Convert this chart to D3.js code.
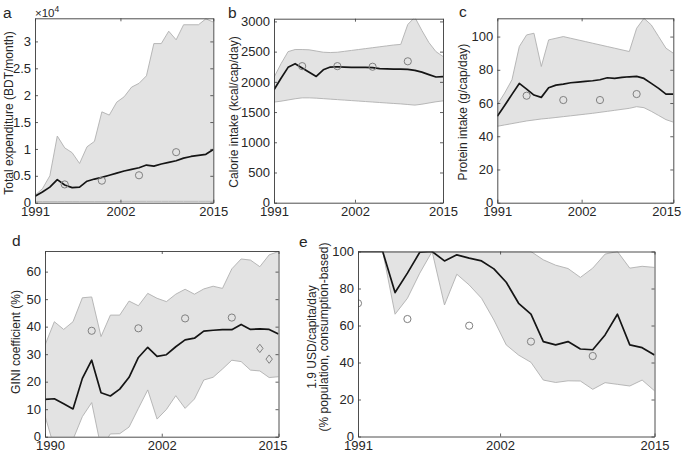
<!DOCTYPE html>
<html><head><meta charset="utf-8">
<script src="https://cdn.jsdelivr.net/npm/d3@7"></script>
<style>
body{margin:0;background:#fff}
svg text{font-family:"Liberation Sans",Arial,Helvetica,sans-serif;fill:#262626}
</style>
</head><body>
<svg id="chart" width="685" height="455"></svg>
<script>
// ---------------- DATA ----------------
const years91 = [1991,1992,1993,1994,1995,1996,1997,1998,1999,2000,2001,2002,2003,2004,2005,2006,2007,2008,2009,2010,2011,2012,2013,2014,2015];
const years90 = [1990,1991,1992,1993,1994,1995,1996,1997,1998,1999,2000,2001,2002,2003,2004,2005,2006,2007,2008,2009,2010,2011,2012,2013,2014,2015];
const surveyYears = [1995,2000,2005,2010];
const xTickLabels91 = ["1991","2002","2015"];
const xTickLabels90 = ["1990","2002","2015"];
const xTickPos91 = [1991,2002.5,2015];
const xTickPos90 = [1990,2002.5,2015];

// a: total expenditure (BDT/month)
const expMean  = [1200,2000,2900,4300,3300,2800,2900,4000,4400,4700,5100,5500,5900,6200,6500,7000,6800,7200,7500,7800,8300,8600,8800,9000,9900];
const expUpper = [1400,2600,5000,12400,10200,9300,7300,10400,11400,16900,16300,18700,19700,21500,22200,23600,29600,29600,31900,30300,33100,33100,33100,34200,33600];
const expLower = [200,200,200,200,200,200,200,200,200,200,200,200,250,250,250,250,250,250,250,250,250,250,250,250,250];
const expSurvey = [3400,4100,5100,9400];
const expTicks = [0,5000,10000,15000,20000,25000,30000];
const expTickLabels = ["0","0.5","1","1.5","2","2.5","3"];

// b: calorie intake (kcal/cap/day)
const calMean  = [1870,2060,2240,2300,2230,2160,2090,2200,2245,2250,2245,2240,2240,2240,2235,2220,2215,2212,2210,2205,2190,2160,2120,2080,2085];
const calUpper = [2075,2300,2500,2535,2535,2530,2510,2490,2485,2490,2505,2520,2535,2550,2565,2580,2595,2610,2620,2950,3070,2850,2650,2500,2420];
const calLower = [1665,1680,1700,1720,1735,1735,1730,1722,1714,1706,1698,1690,1682,1674,1666,1658,1650,1642,1635,1625,1615,1630,1650,1670,1685];
const calSurvey = [2260,2260,2250,2340];
const calTicks = [0,500,1000,1500,2000,2500,3000];

// c: protein intake (g/cap/day)
const proMean  = [52,58.5,65.2,71.8,68.4,64.8,63.4,69.2,70.8,71.4,72.2,72.6,73,73.4,74,75.2,74.8,75.4,75.8,76,74.8,71.8,68.8,65.4,65.4];
const proUpper = [59,66,74,94,101,102,82,98,99,100,99,98,97,96,95,94,93,92,91,105,111,107,100,93,90];
const proLower = [46,46.8,47.6,48.4,49.2,49.8,50.4,50.8,51.3,51.8,52.3,52.8,53.3,53.8,54.4,55,55.6,56.2,56.8,57.8,57.2,55,52.5,50,48.5];
const proSurvey = [64.4,61.8,61.8,65.4];
const proTicks = [0,20,40,60,80,100];

// d: GINI coefficient (%)
const giniMean  = [13.6,13.8,12.0,10.1,21.2,27.8,16.0,14.8,17.3,21.6,28.8,32.5,29.2,29.8,32.7,35.2,35.8,38.4,38.7,38.9,38.9,40.8,39.0,39.2,39.0,37.3];
const giniUpper = [33.3,41.8,39.0,41.8,50.5,50.8,36.4,44.2,44.2,49.3,47.6,52.1,50.3,49.1,51.8,53.6,51.8,53.7,54.7,53.9,61.0,64.6,64.2,61.8,66.1,67.3];
const giniLower = [7.5,-4,-6,-1,7.3,12.4,-4,1.0,1.1,3.5,10.3,17.0,6.4,9.9,14.9,10.3,13.7,20.6,21.6,24.6,27.8,27.3,24.2,23.9,21.5,21.8];
const giniSurvey = [38.5,39.4,43.0,43.3];
const giniAltYears = [2013,2014];
const giniAlt = [32.1,28.2];
const giniTicks = [0,10,20,30,40,50,60];

// e: poverty headcount at 1.9 USD/capita/day (%)
const povMean  = [100,100,100,77.8,88.3,99.6,100,94.9,98.2,96.4,94.9,90.6,83.4,72.0,66.2,51.3,49.5,51.3,47.3,46.9,54.9,66.1,49.5,48.0,44.0];
const povUpper = [100,100,100,100,100,100,100,100,100,100,100,100,100,100,100,95.5,92.6,90.8,86.0,91.0,98.6,100,91.0,92.0,91.4];
const povLower = [100,100,100,66.1,74.7,88.3,100,71.1,87.7,81.9,74.7,63.0,49.5,44.0,40.1,30.5,29.2,30.1,30.0,25.5,29.1,28.2,27.3,30.5,24.7];
const povSurveyYears = [1991,1995,2000,2005,2010];
const povSurvey = [72.0,63.5,59.9,51.3,43.5];
const povTicks = [0,20,40,60,80,100];

// ---------------- DRAW ----------------
const svg = d3.select("#chart");
const FONT = 13;

function panel(cfg){
  const g = svg.append("g");
  const x = d3.scaleLinear().domain(cfg.xDomain).range([cfg.box.l, cfg.box.r]);
  const y = d3.scaleLinear().domain(cfg.yDomain).range([cfg.box.b, cfg.box.t]);
  const id = "clip-" + cfg.letter;
  svg.append("defs").append("clipPath").attr("id", id)
    .append("rect").attr("x", cfg.box.l).attr("y", cfg.box.t)
    .attr("width", cfg.box.r - cfg.box.l).attr("height", cfg.box.b - cfg.box.t);
  const pg = g.append("g").attr("clip-path", `url(#${id})`);
  const pts = cfg.years.map((yr,i)=>({yr, lo:cfg.lower[i], hi:cfg.upper[i], m:cfg.mean[i]}));
  pg.append("path").datum(pts)
    .attr("d", d3.area().x(d=>x(d.yr)).y0(d=>y(d.lo)).y1(d=>y(d.hi)))
    .attr("fill", "#e3e3e3").attr("stroke", "none");
  ["lo","hi"].forEach(k=>{
    pg.append("path").datum(pts)
      .attr("d", d3.line().x(d=>x(d.yr)).y(d=>y(d[k])))
      .attr("fill","none").attr("stroke","#b0b0b0").attr("stroke-width",0.9);
  });
  pg.append("path").datum(pts)
    .attr("d", d3.line().x(d=>x(d.yr)).y(d=>y(d.m)))
    .attr("fill","none").attr("stroke","#151515").attr("stroke-width",1.7)
    .attr("stroke-linejoin","round");
  pg.selectAll("circle.sv").data(cfg.survey).join("circle")
    .attr("cx", d=>x(d[0])).attr("cy", d=>y(d[1])).attr("r", 3.6)
    .attr("fill","none").attr("stroke","#808080").attr("stroke-width",1);
  if (cfg.diamonds){
    pg.selectAll("path.dm").data(cfg.diamonds).join("path")
      .attr("d", d=>{const cx=x(d[0]), cy=y(d[1]); return `M${cx},${cy-4.2}L${cx+3.2},${cy}L${cx},${cy+4.2}L${cx-3.2},${cy}Z`;})
      .attr("fill","none").attr("stroke","#808080").attr("stroke-width",1);
  }
  // axes
  const tl = 3;
  const ax = g.append("g").attr("transform",`translate(0,${cfg.box.b})`)
    .call(d3.axisBottom(x).tickValues(cfg.xTicks).tickFormat((d,i)=>cfg.xLabels[i]).tickSizeInner(-tl).tickSizeOuter(0).tickPadding(4));
  if (cfg.xLabelDx) ax.selectAll(".tick text").attr("dx",(d,i)=>cfg.xLabelDx[i]);
  g.append("g").attr("transform",`translate(0,${cfg.box.t})`)
    .call(d3.axisTop(x).tickValues(cfg.xTicks).tickFormat("").tickSizeInner(-tl).tickSizeOuter(0));
  g.append("g").attr("transform",`translate(${cfg.box.l},0)`)
    .call(d3.axisLeft(y).tickValues(cfg.yTicks).tickFormat((d,i)=>cfg.yLabels ? cfg.yLabels[i] : d).tickSizeInner(-tl).tickSizeOuter(0).tickPadding(4));
  g.append("g").attr("transform",`translate(${cfg.box.r},0)`)
    .call(d3.axisRight(y).tickValues(cfg.yTicks).tickFormat("").tickSizeInner(-tl).tickSizeOuter(0));
  g.selectAll(".domain").attr("stroke","#3a3a3a").attr("stroke-width",0.9);
  g.selectAll(".tick line").attr("stroke","#3a3a3a").attr("stroke-width",0.8);
  g.selectAll(".tick text").attr("font-size",FONT).attr("fill","#262626")
    .style("font-family",'"Liberation Sans",Arial,sans-serif');
  // ylabel
  cfg.yTitle.forEach((t,i)=>{
    g.append("text").attr("transform",`translate(${cfg.yTitleX[i]},${cfg.yTitleY})rotate(-90)`)
      .attr("text-anchor","middle").attr("dominant-baseline","central")
      .attr("font-size",12).text(t);
  });
  // panel letter
  g.append("text").attr("x",cfg.letterPos[0]).attr("y",cfg.letterPos[1])
    .attr("font-size",15.5).attr("fill","#000").text(cfg.letter);
  return {x,y};
}

const zip = (a,b)=>a.map((v,i)=>[v,b[i]]);

panel({letter:"a", letterPos:[3,18], box:{l:35,r:213.3,t:18.3,b:202.7},
  xDomain:[1991,2015], yDomain:[0,34300], years:years91,
  mean:expMean, upper:expUpper, lower:expLower, survey:zip(surveyYears,expSurvey),
  xTicks:xTickPos91, xLabels:xTickLabels91, yTicks:expTicks, yLabels:expTickLabels,
  yTitle:["Total expenditure (BDT/month)"], yTitleX:[8.5], yTitleY:113});
// x10^4 multiplier
const mult = svg.append("text").attr("x",35).attr("y",17).attr("font-size",11.5).attr("fill","#262626");
mult.append("tspan").text("\u00d710");
mult.append("tspan").attr("font-size",8.5).attr("dy",-5).text("4");

panel({letter:"b", letterPos:[228,18], box:{l:274,r:443,t:18.7,b:202.7},
  xDomain:[1991,2015], yDomain:[0,3045], years:years91,
  mean:calMean, upper:calUpper, lower:calLower, survey:zip(surveyYears,calSurvey),
  xTicks:xTickPos91, xLabels:xTickLabels91, yTicks:calTicks,
  yTitle:["Calorie intake (kcal/cap/day)"], yTitleX:[234], yTitleY:112});

panel({letter:"c", letterPos:[459,17], box:{l:497.3,r:673.3,t:18.3,b:202.7},
  xDomain:[1991,2015], yDomain:[0,111], years:years91,
  mean:proMean, upper:proUpper, lower:proLower, survey:zip(surveyYears,proSurvey),
  xTicks:xTickPos91, xLabels:xTickLabels91, xLabelDx:[0,0,-7], yTicks:proTicks,
  yTitle:["Protein intake (g/cap/day)"], yTitleX:[462.5], yTitleY:112});

panel({letter:"d", letterPos:[12,246], box:{l:45,r:278.5,t:251,b:436.7},
  xDomain:[1990,2015], yDomain:[0,67.5], years:years90,
  mean:giniMean, upper:giniUpper, lower:giniLower, survey:zip(surveyYears,giniSurvey),
  diamonds:zip(giniAltYears,giniAlt),
  xTicks:xTickPos90, xLabels:xTickLabels90, xLabelDx:[5,0,-6], yTicks:giniTicks,
  yTitle:["GINI coefficient (%)"], yTitleX:[16], yTitleY:342});

panel({letter:"e", letterPos:[299,247], box:{l:358,r:654.5,t:251.5,b:436.5},
  xDomain:[1991,2015], yDomain:[0,100], years:years91,
  mean:povMean, upper:povUpper, lower:povLower, survey:zip(povSurveyYears,povSurvey),
  xTicks:xTickPos91, xLabels:xTickLabels91, yTicks:povTicks,
  yTitle:["1.9 USD/capita/day","(% population, consumption-based)"], yTitleX:[312,324], yTitleY:337});
</script>
</body></html>
